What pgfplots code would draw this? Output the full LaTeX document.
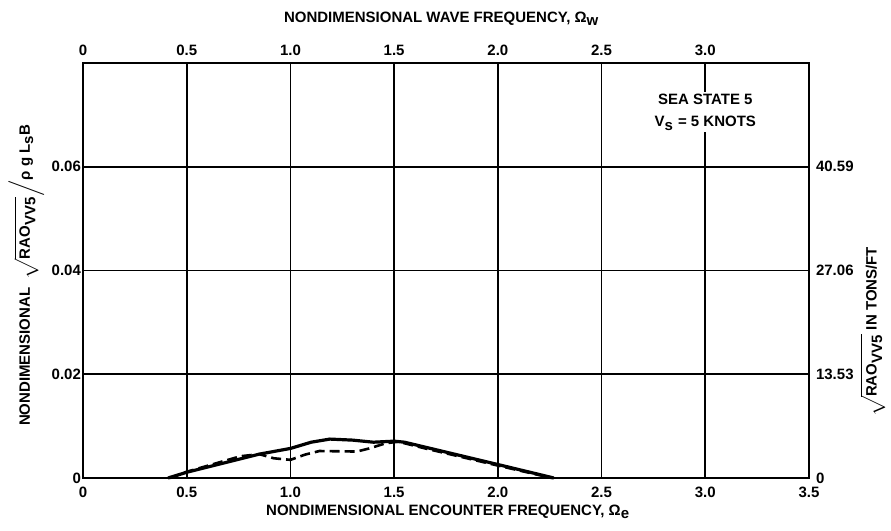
\documentclass[border=0pt]{standalone}
\usepackage{fontspec}
\setmainfont{Liberation Sans}
\usepackage{pgfplots}
\pgfplotsset{compat=1.18}
\pgfplotstableread{
x y
0.41 0
0.50 0.0011
0.85 0.0046
1.00 0.0057
1.10 0.0069
1.19 0.0075
1.30 0.0073
1.40 0.0069
1.50 0.0071
1.55 0.0069
2.00 0.0026
2.27 0
}\solid
\pgfplotstableread{
x y
0.42 0
0.50 0.0012
0.76 0.0042
0.85 0.0046
0.92 0.0038
1.00 0.0035
1.07 0.0045
1.14 0.0052
1.32 0.0051
1.38 0.0057
1.46 0.0067
1.52 0.0070
1.65 0.0057
2.00 0.0024
2.26 0
}\dashed
\begin{document}
\begin{tikzpicture}
\useasboundingbox (-41.5pt,-26.5pt) rectangle (404pt,239pt);
\pgfplotsset{
  common/.style={
    at={(0pt,0pt)}, anchor=south west, scale only axis,
    width=363pt, height=207.5pt,
    xmin=0, xmax=3.5, ymin=0, ymax=0.08,
    scaled x ticks=false, scaled y ticks=false,
    axis line style={line width=1.3pt},
    tick style={draw=none},
    tick label style={font=\bfseries\fontsize{7.5}{8}\selectfont},
    label style={font=\bfseries\fontsize{7.5}{8}\selectfont},
    clip=false,
  }
}
\begin{axis}[common,
  xtick={0,0.5,1,1.5,2,2.5,3,3.5},
  xticklabels={0,0.5,1.0,1.5,2.0,2.5,3.0,3.5},
  ytick={0,0.02,0.04,0.06,0.08},
  yticklabels={0,0.02,0.04,0.06,},
  grid=major, grid style={black, line width=0.9pt},
  xticklabel pos=lower, yticklabel pos=left,
  xticklabel style={yshift=-1pt},
  yticklabel style={xshift=2.5pt},
  xlabel={NONDIMENSIONAL ENCOUNTER FREQUENCY, Ω$_{\mbox{\bfseries e}}$},
  xlabel style={at={(axis description cs:0.503,-0.082)}, anchor=center},
  ylabel={NONDIMENSIONAL \ $\sqrt{\mbox{\bfseries RAO}_{\mbox{\bfseries VV5}}}\big/$ρ g L$_{\mbox{\bfseries s}}$B},
  ylabel style={at={(axis description cs:-0.078,0.489)}, anchor=center, rotate=0},
]
\addplot[black, line width=1.6pt] table {\solid};
\addplot[black, line width=1.3pt, dash pattern=on 5pt off 2.5pt] table {\dashed};
\node[fill=white, align=center, inner sep=1pt, font=\bfseries\fontsize{7.5}{11}\selectfont]
  at (axis cs:3.0,0.0705) {SEA STATE 5\\V$_{\mbox{\bfseries s}}$ = 5 KNOTS};
\end{axis}
\begin{axis}[common,
  xtick={0,0.5,1,1.5,2,2.5,3},
  xticklabels={0,0.5,1.0,1.5,2.0,2.5,3.0},
  ytick={0,0.02,0.04,0.06},
  yticklabels={0,13.53,27.06,40.59},
  xticklabel pos=upper, yticklabel pos=right,
  xlabel={NONDIMENSIONAL WAVE FREQUENCY, Ω$_{\mbox{\bfseries w}}$},
  xlabel style={at={(axis description cs:0.494,1.106)}, anchor=center},
  ylabel={$\sqrt{\mbox{\bfseries RAO}_{\mbox{\bfseries VV5}}}$ IN TONS/FT},
  ylabel style={at={(axis description cs:1.088,0.352)}, anchor=center, rotate=0},
]
\end{axis}
\end{tikzpicture}
\end{document}
